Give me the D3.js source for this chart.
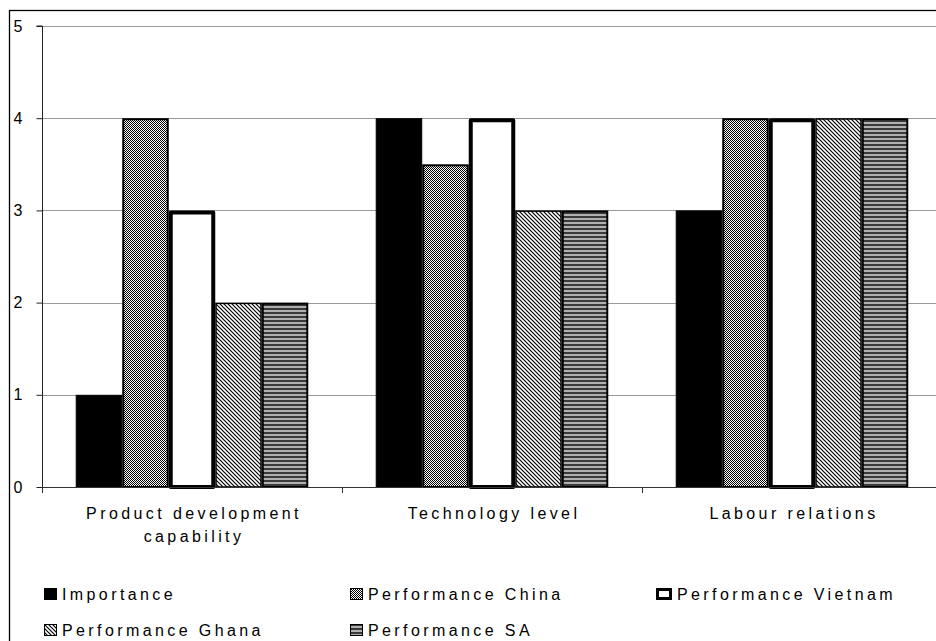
<!DOCTYPE html>
<html>
<head>
<meta charset="utf-8">
<script src="https://cdn.jsdelivr.net/npm/d3@7"></script>
<style>
html,body{margin:0;padding:0;background:#fff;}
svg{display:block;font-family:"Liberation Sans",Arial,sans-serif;}
</style>
</head>
<body>
<script>
// ---- data ----
const categories = ["Product development capability", "Technology level", "Labour relations"];
const categoryLines = [["Product development", "capability"], ["Technology level"], ["Labour relations"]];
const seriesNames = ["Importance", "Performance China", "Performance Vietnam", "Performance Ghana", "Performance SA"];
const importance = [1, 4, 3];
const perfChina = [4, 3.5, 4];
const perfVietnam = [3, 4, 4];
const perfGhana = [2, 3, 4];
const perfSA = [2, 3, 4];
const yTicks = [0, 1, 2, 3, 4, 5];

const seriesValues = [importance, perfChina, perfVietnam, perfGhana, perfSA];

const W = 936, H = 641;
const svg = d3.select("body").append("svg").attr("width", W).attr("height", H);
const defs = svg.append("defs");

// patterns
const pChina = defs.append("pattern").attr("id", "pChina").attr("patternUnits", "userSpaceOnUse")
  .attr("width", 2).attr("height", 2);
pChina.append("rect").attr("width", 2).attr("height", 2).attr("fill", "#fff");
pChina.append("rect").attr("x", 0).attr("y", 0).attr("width", 1).attr("height", 1).attr("fill", "#000");
pChina.append("rect").attr("x", 1).attr("y", 1).attr("width", 1).attr("height", 1).attr("fill", "#000");

const pGhana = defs.append("pattern").attr("id", "pGhana").attr("patternUnits", "userSpaceOnUse")
  .attr("width", 4).attr("height", 4);
pGhana.append("rect").attr("width", 4).attr("height", 4).attr("fill", "#fff");
pGhana.append("path").attr("d", "M-1,-1 L5,5 M-1,3 L1,5 M3,-1 L5,1").attr("stroke", "#000").attr("stroke-width", 1.2);

const pSA = defs.append("pattern").attr("id", "pSA").attr("patternUnits", "userSpaceOnUse")
  .attr("width", 4).attr("height", 4);
pSA.append("rect").attr("width", 4).attr("height", 4).attr("fill", "#b0b0b0");
pSA.append("rect").attr("y", 0).attr("width", 4).attr("height", 2).attr("fill", "#3a3a3a");

const styles = [
  {fill: "#000", stroke: "#000", sw: 1},
  {fill: "url(#pChina)", stroke: "#000", sw: 2},
  {fill: "#fff", stroke: "#000", sw: 4},
  {fill: "url(#pGhana)", stroke: "#000", sw: 1.5},
  {fill: "url(#pSA)", stroke: "#000", sw: 2}
];

// outer frame (extends beyond the visible area on right and bottom)
svg.append("rect").attr("x", 9.5).attr("y", 10.5).attr("width", 1000).attr("height", 1000)
  .attr("fill", "none").attr("stroke", "#000").attr("stroke-width", 1.3);

const plotL = 42, plotR = 942, plotT = 26, plotB = 487;

const x = d3.scaleBand().domain(d3.range(categories.length)).range([plotL, plotR]).padding(0);
const xs = d3.scaleBand().domain(seriesNames).range([0, x.bandwidth()]).paddingInner(0).paddingOuter(0.725);
const y = d3.scaleLinear().domain([0, 5]).range([plotB, plotT]);

// gridlines
svg.append("g").selectAll("line").data(yTicks.filter(d => d > 0)).join("line")
  .attr("x1", plotL).attr("x2", plotR)
  .attr("y1", d => Math.round(y(d)) + 0.5).attr("y2", d => Math.round(y(d)) + 0.5)
  .attr("stroke", "#999").attr("stroke-width", 1);

// y axis
const yAxis = d3.axisLeft(y).tickValues(yTicks).tickSize(6).tickPadding(0).tickFormat(d3.format("d"));
const gy = svg.append("g").attr("transform", `translate(${plotL + 0.5},0)`).call(yAxis);
gy.attr("font-size", 16).attr("font-family", "Liberation Sans, Arial, sans-serif");
gy.select(".domain").attr("stroke", "#222").attr("d", `M-6,${plotT}H0V${plotB}`);
gy.selectAll(".tick line").attr("stroke", "#222");
gy.selectAll(".tick text").attr("x", -20).attr("font-size", 16).attr("fill", "#000");

// bars
const gBars = svg.append("g");
seriesNames.forEach((s, si) => {
  const st = styles[si];
  const sw = st.sw;
  gBars.append("g").selectAll("rect").data(seriesValues[si]).join("rect")
    .attr("x", (d, i) => x(i) + xs(s) + sw / 2)
    .attr("y", d => y(d) + sw / 2)
    .attr("width", xs.bandwidth() - sw)
    .attr("height", d => y(0) - y(d) - sw / 2)
    .attr("fill", st.fill).attr("stroke", st.stroke).attr("stroke-width", sw)
    .attr("stroke-linejoin", si === 2 ? "round" : "miter");
});

// x axis
const xAxisLine = svg.append("g");
xAxisLine.append("line").attr("x1", plotL).attr("x2", plotR)
  .attr("y1", plotB + 0.5).attr("y2", plotB + 0.5).attr("stroke", "#333");
xAxisLine.selectAll("line.tk").data(d3.range(categories.length + 1)).join("line").attr("class", "tk")
  .attr("x1", i => plotL + i * x.step() + 0.5).attr("x2", i => plotL + i * x.step() + 0.5)
  .attr("y1", plotB).attr("y2", plotB + 6).attr("stroke", "#333");

// category labels
const gCat = svg.append("g");
categoryLines.forEach((lines, i) => {
  const t = gCat.append("text").attr("text-anchor", "middle").attr("font-size", 16)
    .attr("letter-spacing", 3.4).attr("fill", "#000");
  lines.forEach((ln, li) => {
    t.append("tspan").attr("x", x(i) + x.bandwidth() / 2 + 2).attr("y", 519 + li * 23).text(ln);
  });
});

// legend
const legendPos = [
  {x: 44, y: 600}, {x: 350, y: 600}, {x: 656, y: 600},
  {x: 44, y: 636}, {x: 350, y: 636}
];
const gLeg = svg.append("g");
seriesNames.forEach((s, si) => {
  const p = legendPos[si];
  const st = styles[si];
  const sw = si === 2 ? 3 : 1;
  const w = si === 2 ? 16 : 13;
  gLeg.append("rect").attr("x", p.x + sw / 2).attr("y", p.y - 12 + sw / 2)
    .attr("width", w - sw).attr("height", 12 - sw)
    .attr("fill", st.fill).attr("stroke", "#000").attr("stroke-width", sw);
  gLeg.append("text").attr("x", p.x + w + 5).attr("y", p.y).attr("font-size", 16)
    .attr("letter-spacing", 3.4).attr("fill", "#000").text(s);
});
</script>
</body>
</html>
